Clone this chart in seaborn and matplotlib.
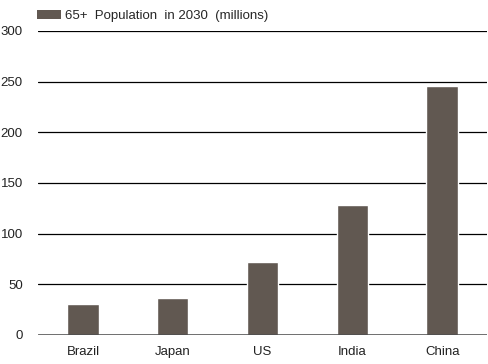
import pandas as pd
import seaborn as sns
import matplotlib.pyplot as plt
from matplotlib.patches import Patch

countries = ['Brazil', 'Japan', 'US', 'India', 'China']
pop_65_2030 = [30, 36, 72, 128, 246]
yticks = [0, 50, 100, 150, 200, 250, 300]
label = '65+  Population  in 2030  (millions)'

df = pd.DataFrame({'country': countries, 'pop': pop_65_2030})

sns.set_style('white')
plt.rcParams['font.family'] = ['Liberation Sans', 'DejaVu Sans']

fig = plt.figure(figsize=(4.88, 3.64), dpi=100)
ax = fig.add_axes([0.078, 0.080, 0.920, 0.835])

bar_color = '#615851'
sns.barplot(data=df, x='country', y='pop', color=bar_color, width=0.35,
            saturation=1, ax=ax, zorder=3)

ax.set_xlim(-0.5, 4.5)
ax.set_ylim(0, 300)
ax.set_yticks(yticks)
ax.set_yticklabels([str(t) for t in yticks], fontsize=9.5, color='#222222')
ax.tick_params(axis='x', labelsize=9.5, colors='#222222', length=0, pad=8)
ax.tick_params(axis='y', length=0, pad=11)
for t in yticks[1:]:
    ax.axhline(t, color='black', lw=0.9, zorder=1)
ax.axhline(0, color='#444444', lw=1.8, zorder=4)

for s in ['top', 'right', 'left', 'bottom']:
    ax.spines[s].set_visible(False)
ax.set_xlabel('')
ax.set_ylabel('')

handle = Patch(facecolor=bar_color, edgecolor='none')
fig.legend([handle], [label], loc='upper left', bbox_to_anchor=(0.052, 1.005),
           frameon=False, fontsize=9.5, handlelength=1.8, handleheight=0.6,
           handletextpad=0.3)

plt.savefig('out.png', dpi=100)
